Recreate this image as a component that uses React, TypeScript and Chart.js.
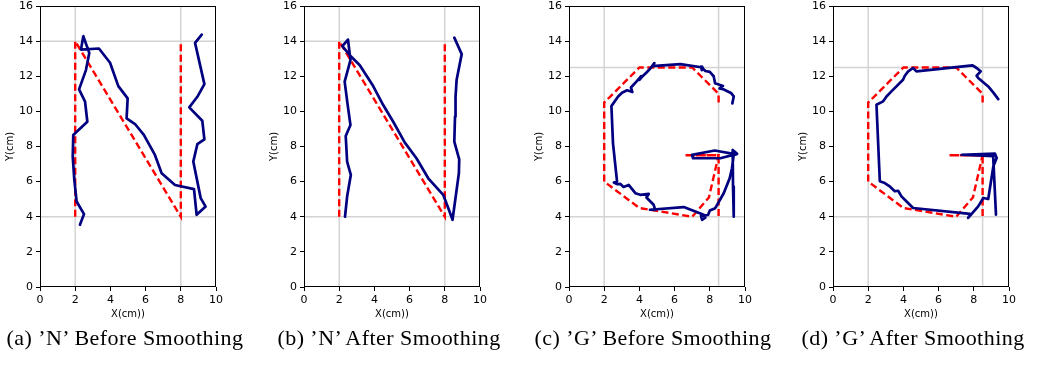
import React, { useEffect, useRef } from "react";
import { Chart, registerables } from "chart.js";

Chart.register(...registerables);

type Pt = [number, number];

const xTickValues = [0, 2, 4, 6, 8, 10];
const yTickValues = [0, 2, 4, 6, 8, 10, 12, 14, 16];

// Reference (target) letter paths
const nReference: Pt[] = [[2, 4], [2, 14], [8, 4], [8, 14]];
const gReference: Pt[] = [
  [8.5, 10.5], [8.5, 11], [7, 12.5], [4, 12.5], [2, 10.5], [2, 6], [4, 4.5], [7, 4],
  [7.95, 5.1], [8.5, 7.5], [6.6, 7.5], [8.5, 7.5], [8.5, 4],
];

// Guide lines
const nGuideX = [2, 8];
const nGuideY = [4, 14];
const gGuideX = [2, 8.5];
const gGuideY = [4, 12.5];

// Drawn strokes
const nBefore: Pt[] = [
  [2.27, 3.54], [2.5, 4.15], [2.08, 4.87], [1.95, 6.1], [1.86, 7.42], [1.89, 8.66],
  [2.69, 9.41], [2.56, 10.55], [2.22, 11.25], [2.61, 12.35], [2.8, 13.33], [2.46, 14.28],
  [2.33, 13.52], [3.35, 13.58], [3.98, 12.77], [4.45, 11.44], [4.98, 10.74], [4.92, 9.6],
  [5.4, 9.28], [5.9, 8.66], [6.53, 7.52], [6.91, 6.48], [7.67, 5.81], [8.75, 5.57],
  [8.9, 4.11], [9.41, 4.58], [9.13, 5.06], [8.71, 7.14], [8.94, 8.13], [9.34, 8.41],
  [9.22, 9.47], [8.48, 10.23], [8.94, 10.83], [9.34, 11.55], [8.81, 13.9], [9.19, 14.37],
];

const nAfter: Pt[] = [
  [2.33, 4.0], [2.45, 5.15], [2.66, 6.38], [2.45, 7.14], [2.37, 8.6], [2.64, 9.22],
  [2.47, 10.45], [2.31, 11.69], [2.64, 12.92], [2.5, 14.09], [2.18, 13.71], [2.6, 13.2],
  [3.17, 12.63], [3.93, 11.44], [4.5, 10.36], [5.07, 9.41], [5.73, 8.22], [6.39, 7.33],
  [7.06, 6.19], [7.91, 5.25], [8.2, 4.49], [8.44, 3.83], [8.8, 6.48], [8.82, 7.27],
  [8.54, 8.28], [8.58, 9.7], [8.61, 10.83], [8.67, 11.78], [8.96, 13.26], [8.54, 14.2],
];

const gBefore: Pt[] = [
  [9.28, 10.45], [9.36, 10.85], [9.2, 11.05], [8.8, 11.25], [8.55, 11.3], [8.75, 11.45],
  [8.3, 11.6], [8.22, 12.0], [8.0, 12.25], [7.75, 12.3], [7.5, 12.55], [7.55, 12.35],
  [7.6, 12.5], [6.33, 12.69], [4.72, 12.58], [4.85, 12.75], [4.62, 12.44], [4.39, 12.2],
  [4.15, 11.97], [4.0, 11.8], [4.1, 12.0], [3.83, 11.69], [3.52, 11.36], [3.6, 11.1],
  [3.3, 11.2], [3.01, 11.06], [2.78, 10.83], [2.41, 10.3], [2.5, 8.18], [2.73, 6.0],
  [2.55, 5.95], [2.75, 5.85], [2.92, 5.87], [3.1, 5.7], [3.39, 5.81], [3.77, 5.34],
  [4.05, 5.25], [4.53, 5.3], [4.4, 5.1], [4.81, 4.68], [4.9, 4.39], [4.6, 4.4],
  [6.52, 4.55], [7.65, 4.11], [7.75, 3.95], [7.56, 3.83], [7.5, 4.05], [7.9, 4.1],
  [8.0, 4.35], [8.31, 4.49], [8.79, 5.34], [9.13, 6.19], [9.26, 6.76], [9.36, 7.52],
  [9.5, 7.55], [8.28, 7.77], [6.99, 7.52], [7.05, 7.33], [8.6, 7.33], [9.55, 7.58],
  [9.3, 7.8], [9.32, 5.72], [9.36, 4.0],
];

const gAfter: Pt[] = [
  [9.39, 10.7], [9.1, 11.08], [8.82, 11.42], [8.25, 11.9], [8.16, 12.03], [8.39, 12.28],
  [8.16, 12.47], [7.93, 12.62], [4.74, 12.28], [4.55, 12.47], [4.27, 12.28], [4.08, 12.03],
  [3.98, 11.8], [3.32, 11.14], [3.04, 10.85], [2.85, 10.57], [2.47, 10.38], [2.66, 6.02],
  [2.94, 5.92], [3.2, 5.75], [3.51, 5.45], [3.7, 5.48], [3.89, 5.16], [4.08, 4.97],
  [4.55, 4.5], [7.78, 4.16], [7.68, 3.93], [8.25, 4.59], [8.54, 5.07], [8.82, 5.01],
  [9.11, 6.87], [9.3, 7.34], [9.2, 7.6], [7.31, 7.53], [9.1, 7.45], [9.26, 4.12],
];

const captions = [
  "(a) \u2019N\u2019 Before Smoothing",
  "(b) \u2019N\u2019 After Smoothing",
  "(c) \u2019G\u2019 Before Smoothing",
  "(d) \u2019G\u2019 After Smoothing",
];

const X_MIN = 0, X_MAX = 10, Y_MIN = 0, Y_MAX = 16;

interface PanelCfg {
  plotLeft: number;
  captionCenter: number;
  stroke: Pt[];
  reference: Pt[];
  guideX: number[];
  guideY: number[];
  caption: string;
}

const panels: PanelCfg[] = [
  { plotLeft: 40, captionCenter: 125, stroke: nBefore, reference: nReference, guideX: nGuideX, guideY: nGuideY, caption: captions[0] },
  { plotLeft: 304, captionCenter: 389, stroke: nAfter, reference: nReference, guideX: nGuideX, guideY: nGuideY, caption: captions[1] },
  { plotLeft: 569, captionCenter: 653, stroke: gBefore, reference: gReference, guideX: gGuideX, guideY: gGuideY, caption: captions[2] },
  { plotLeft: 833, captionCenter: 913, stroke: gAfter, reference: gReference, guideX: gGuideX, guideY: gGuideY, caption: captions[3] },
];

const Y_AXIS_W = 40;
const PLOT_W = 176;
const CANVAS_W = Y_AXIS_W + PLOT_W + 14;
const CANVAS_TOP = -4;
const PAD_TOP = 10;
const X_AXIS_H = 43;
const CANVAS_H = 287 - CANVAS_TOP + X_AXIS_H;

const framePlugin = {
  id: "frame",
  afterDatasetsDraw(chart: any) {
    const { ctx, chartArea } = chart;
    ctx.save();
    ctx.strokeStyle = "#000";
    ctx.lineWidth = 1;
    const l = Math.round(chartArea.left) + 0.5;
    const t = Math.round(chartArea.top) + 0.5;
    const r = Math.round(chartArea.right) - 0.5;
    const b = Math.round(chartArea.bottom) - 0.5;
    ctx.strokeRect(l, t, r - l, b - t);
    ctx.restore();
  },
};

function Panel({ cfg }: { cfg: PanelCfg }) {
  const ref = useRef<HTMLCanvasElement>(null);
  useEffect(() => {
    if (!ref.current) return;
    const guideSets: any[] = [];
    cfg.guideX.forEach((gx) =>
      guideSets.push({
        data: [{ x: gx, y: Y_MIN }, { x: gx, y: Y_MAX }],
        borderColor: "#d3d3d3",
        borderWidth: 1.5,
        order: 3,
      })
    );
    cfg.guideY.forEach((gy) =>
      guideSets.push({
        data: [{ x: X_MIN, y: gy }, { x: X_MAX, y: gy }],
        borderColor: "#d3d3d3",
        borderWidth: 1.5,
        order: 3,
      })
    );
    const chart = new Chart(ref.current, {
      type: "scatter",
      data: {
        datasets: [
          {
            data: cfg.stroke.map(([x, y]) => ({ x, y })),
            borderColor: "#000080",
            borderWidth: 2.7,
            borderJoinStyle: "round",
            borderCapStyle: "round",
            order: 1,
          },
          {
            data: cfg.reference.map(([x, y]) => ({ x, y })),
            borderColor: "#ff0000",
            borderWidth: 2.4,
            borderDash: [7, 3.5],
            order: 2,
          },
          ...guideSets,
        ].map((d: any) => ({ showLine: true, pointRadius: 0, pointHoverRadius: 0, tension: 0, fill: false, ...d })),
      },
      options: {
        animation: false,
        responsive: false,
        maintainAspectRatio: false,
        devicePixelRatio: 1,
        events: [],
        layout: { padding: { top: PAD_TOP, right: CANVAS_W - Y_AXIS_W - PLOT_W, left: 0, bottom: 0 } },
        plugins: { legend: { display: false }, tooltip: { enabled: false }, title: { display: false } },
        scales: {
          x: {
            type: "linear",
            min: X_MIN,
            max: X_MAX,
            afterBuildTicks: (s: any) => { s.ticks = xTickValues.map((v) => ({ value: v })); },
            afterFit: (s: any) => { s.height = X_AXIS_H; },
            ticks: { color: "#000", font: { family: "DejaVu Sans", size: 11 }, padding: 3, maxRotation: 0, autoSkip: false },
            grid: { drawOnChartArea: false, drawTicks: true, tickLength: 4, color: "#000", lineWidth: 1 },
            border: { display: false },
            title: { display: true, text: "X(cm))", color: "#000", font: { family: "DejaVu Sans", size: 10 }, padding: { top: 0, bottom: 10 } },
          },
          y: {
            type: "linear",
            min: Y_MIN,
            max: Y_MAX,
            afterBuildTicks: (s: any) => { s.ticks = yTickValues.map((v) => ({ value: v })); },
            afterFit: (s: any) => { s.width = Y_AXIS_W; },
            ticks: { color: "#000", font: { family: "DejaVu Sans", size: 11 }, padding: 3, autoSkip: false },
            grid: { drawOnChartArea: false, drawTicks: true, tickLength: 4, color: "#000", lineWidth: 1 },
            border: { display: false },
            title: { display: true, text: "Y(cm)", color: "#000", font: { family: "DejaVu Sans", size: 10 }, padding: { top: 4, bottom: 0 } },
          },
        },
      },
      plugins: [framePlugin],
    } as any);
    return () => chart.destroy();
  }, [cfg]);
  return (
    <canvas
      ref={ref}
      width={CANVAS_W}
      height={CANVAS_H}
      style={{ position: "absolute", left: cfg.plotLeft - Y_AXIS_W, top: CANVAS_TOP, width: CANVAS_W, height: CANVAS_H }}
    />
  );
}

export default function App() {
  return (
    <div style={{ position: "absolute", left: 0, top: 0, width: 1041, height: 376, overflow: "hidden", background: "#fff" }}>
      {panels.map((p, i) => (
        <Panel key={i} cfg={p} />
      ))}
      {panels.map((p, i) => (
        <div
          key={"c" + i}
          style={{
            position: "absolute",
            left: p.captionCenter - 150,
            width: 300,
            top: 326,
            textAlign: "center",
            fontFamily: "'Liberation Serif', serif",
            fontSize: 22,
            letterSpacing: "0.45px",
            lineHeight: "24px",
            color: "#000",
            whiteSpace: "nowrap",
          }}
        >
          {p.caption}
        </div>
      ))}
    </div>
  );
}
